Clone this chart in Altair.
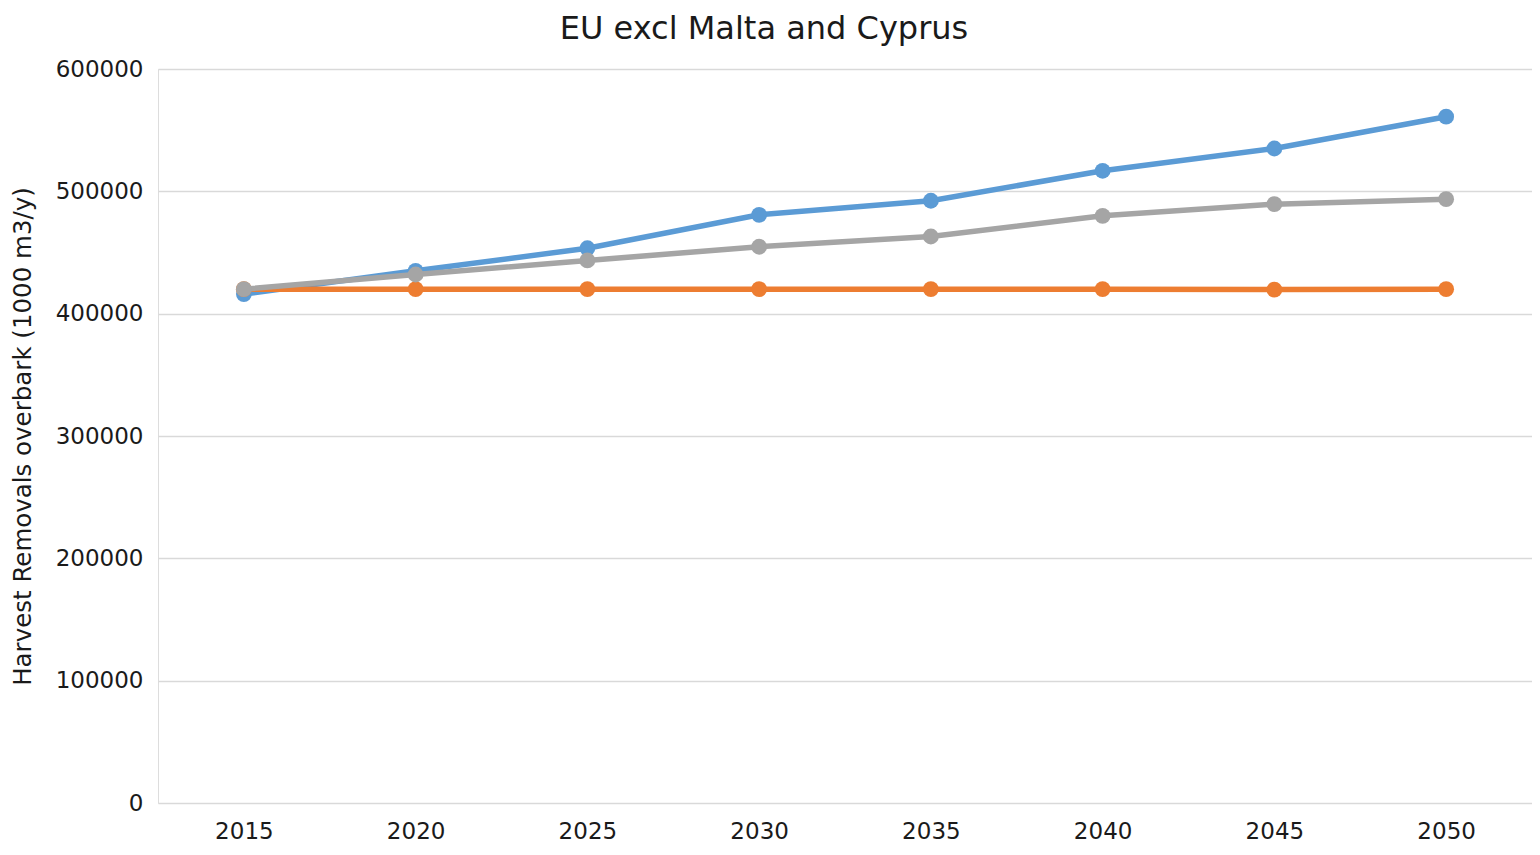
import altair as alt
import pandas as pd

years = ["2015", "2020", "2025", "2030", "2035", "2040", "2045", "2050"]
series_names = ["Series 1", "Series 2", "Series 3"]
series_colors = ["#5B9BD5", "#ED7D31", "#A5A5A5"]
blue_values = [416000, 435000, 453500, 480800, 492300, 516800, 535000, 561000]
orange_values = [420000, 420000, 420000, 420000, 420000, 420000, 419700, 420000]
gray_values = [420000, 432000, 443500, 454700, 463100, 480000, 489500, 493600]
y_ticks = [0, 100000, 200000, 300000, 400000, 500000, 600000]

rows = []
for name, vals in zip(series_names, [blue_values, orange_values, gray_values]):
    for yr, v in zip(years, vals):
        rows.append({"series": name, "year": yr, "value": v})
df = pd.DataFrame(rows)

font = "DejaVu Sans"
txt = "#1a1a1a"

x_enc = alt.X("year:O", scale=alt.Scale(domain=years, paddingInner=1, paddingOuter=0.5),
              axis=alt.Axis(title=None, labelAngle=0, labelFontSize=23, labelFont=font,
                            labelColor=txt, ticks=False, domain=False, grid=False,
                            labelPadding=17))
y_enc = alt.Y("value:Q", scale=alt.Scale(domain=[0, 600000], nice=False),
              axis=alt.Axis(title="Harvest  Removals overbark (1000 m3/y)", values=y_ticks,
                            format="d", labelFontSize=23, labelFont=font, labelColor=txt,
                            titleFontSize=24.5, titleFont=font, titleFontWeight="normal",
                            titleColor=txt, titleX=-135, titleY=367, titleAngle=270,
                            titleAlign="center", titleBaseline="middle",
                            ticks=False, domain=False, grid=True, gridColor="#D9D9D9",
                            gridWidth=1.6, labelPadding=15))
color_enc = alt.Color("series:N", scale=alt.Scale(domain=series_names, range=series_colors),
                      legend=None)

layers = []
for name in series_names:
    sub = df[df.series == name]
    layers.append(alt.Chart(sub).mark_line(strokeWidth=5.5).encode(x=x_enc, y=y_enc, color=color_enc))
    layers.append(alt.Chart(sub).mark_point(filled=True, size=250, opacity=1).encode(x=x_enc, y=y_enc, color=color_enc))

chart = alt.layer(*layers).properties(
    width=1374, height=734,
    title=alt.TitleParams("EU excl Malta and Cyprus", fontSize=32, font=font,
                          fontWeight="normal", color=txt, anchor="middle",
                          dx=-81, offset=12),
    autosize=alt.AutoSizeParams(type="none"),
    padding={"left": 150, "top": 61, "right": 0, "bottom": 44},
).configure_view(stroke=None).configure(background="white")

chart.save("out.html", embed_options={"renderer": "svg", "actions": False})
